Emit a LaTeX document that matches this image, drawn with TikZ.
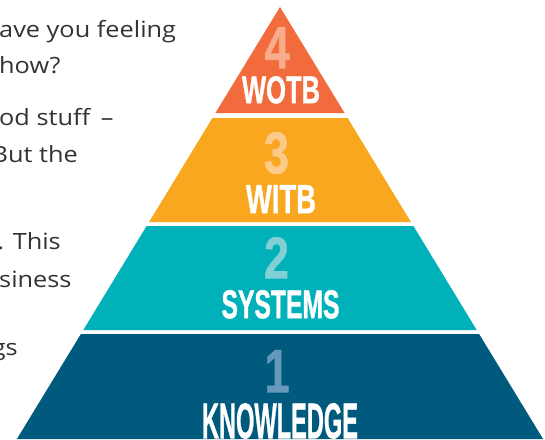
\documentclass[tikz,border=0pt]{standalone}
\usepackage{fontspec}
\setmainfont[FakeStretch=1.13]{Open Sans}
\newfontfamily\headfont[FakeBold=1.2]{Liberation Sans}
\definecolor{tierfour}{HTML}{F26B3C}
\definecolor{tierthree}{HTML}{F8A71F}
\definecolor{tiertwo}{HTML}{00B1BA}
\definecolor{tierone}{HTML}{005A7E}
\definecolor{digfour}{HTML}{F9AC8C}
\definecolor{digthree}{HTML}{FCCB8A}
\definecolor{digtwo}{HTML}{80D0D6}
\definecolor{digone}{HTML}{6699B9}
\definecolor{bodytext}{HTML}{333333}
\tikzset{
  bodyline/.style={anchor=base east, inner sep=0pt, text=bodytext, font=\fontsize{22.4}{26}\selectfont},
  bodyleft/.style={bodyline, anchor=base west},
  digit/.style={anchor=north, inner sep=0pt},
  word/.style={anchor=north, inner sep=0pt, text=white},
}
\newcommand{\fitword}[3]{\resizebox{#1pt}{#2pt}{\headfont\bfseries #3}}
\begin{document}
\begin{tikzpicture}[x=1pt,y=-1pt]
\useasboundingbox (0,0) rectangle (545,439);
\clip (0,0) rectangle (545,439);
% pyramid tiers
\fill[tierfour]  (280,7) -- (344.6,113) -- (215.4,113) -- cycle;
\fill[tierthree] (212.4,118) -- (347.6,118) -- (410.9,222) -- (149.1,222) -- cycle;
\fill[tiertwo]   (146.6,226) -- (413.4,226) -- (476.7,330) -- (83.3,330) -- cycle;
\fill[tierone]   (80.9,334) -- (479.1,334) -- (543.1,439) -- (16.9,439) -- cycle;
% labels
\node[digit, text=digfour]  (d4) at (277,27)  {\fitword{25}{41}{4}};
\node[word]                 (w4) at (281,76)  {\fitword{78}{27}{WOTB}};
\node[digit, text=digthree] (d3) at (276.5,132) {\fitword{25}{41}{3}};
\node[word]                 (w3) at (281,185) {\fitword{70}{28}{WITB}};
\node[digit, text=digtwo]   (d2) at (276.5,237) {\fitword{25}{41}{2}};
\node[word]                 (w2) at (280.5,290) {\fitword{118}{28}{SYSTEMS}};
\node[digit, text=digone]   (d1) at (277,350) {\fitword{25}{42}{1}};
\node[word]                 (w1) at (280,403) {\fitword{156}{35}{KNOWLEDGE}};
% body text fragments
\node[bodyleft] (t1) at (-1,37)   {ave you feeling};
\node[bodyleft] (t2) at (-1,73)   {how?};
\node[bodyleft] (t3) at (-1,125)  {od stuff\hspace{4pt} –};
\node[bodyline] (t4) at (78,162)  {But the};
\node[bodyline] (t5) at (61,249)  {. This};
\node[bodyleft] (t6) at (-1,287)  {siness};
\node[bodyline] (t7) at (18,355)  {gs};
\end{tikzpicture}
\end{document}
